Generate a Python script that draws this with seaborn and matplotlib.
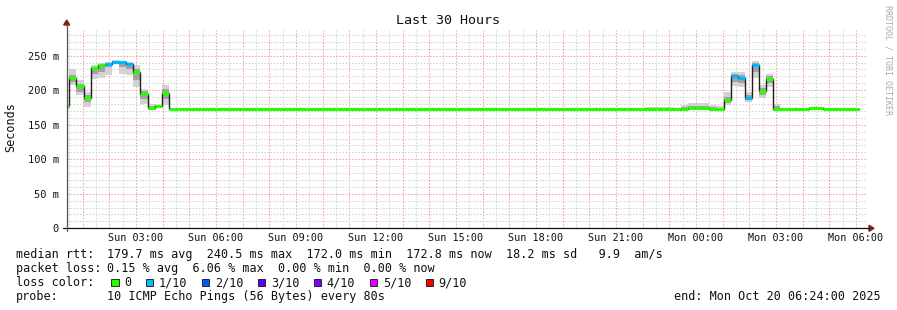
import numpy as np
import pandas as pd
import matplotlib
matplotlib.use("Agg")
import matplotlib.pyplot as plt
import matplotlib.dates as mdates
from matplotlib.patches import Rectangle, Polygon
from matplotlib.lines import Line2D
import seaborn as sns

# ---------------- data ----------------
title = "Last 30 Hours"
y_label = "Seconds"
window_start = "2025-10-19 00:24"
window_end = "2025-10-20 06:24"
first_bin_start = "2025-10-19 00:14"
bin_minutes = 16

# run-length segments of 16-minute bins
seg_bins = [1, 1, 1, 1, 1, 1, 1, 1, 1, 1, 1, 1, 1, 1, 1,
            67, 4, 1, 1, 3, 1, 1,
            1, 1, 1, 1, 1, 1, 1, 1,
            4, 2, 5]
seg_median = [177.1, 217.6, 205.6, 188.2, 232.5, 236.0, 238.3, 240.5, 240.5, 237.4, 226.3, 194.0, 174.2, 176.6, 195.5,
              172.8, 172.8, 172.8, 172.8, 173.5, 172.8, 172.8,
              186.2, 220.1, 218.0, 188.6, 236.9, 198.3, 216.6, 172.8,
              172.8, 174.0, 172.8]
seg_smoke_lo = [173.2, 207.9, 192.6, 175.6, 216.6, 217.6, 222.4, 238.3, 223.8, 222.4, 204.3, 180.4, 173.2, 174.6, 178.0,
                172.8, 172.8, 172.8, 172.8, 172.8, 172.8, 172.8,
                178.1, 205.6, 204.6, 182.9, 217.6, 189.1, 204.6, 172.8,
                172.8, 172.8, 172.8]
seg_smoke_hi = [180.4, 230.2, 214.3, 197.3, 236.0, 239.3, 240.8, 243.2, 241.8, 240.8, 236.0, 202.1, 180.4, 179.0, 207.0,
                172.8, 175.8, 172.8, 178.5, 181.5, 178.5, 177.0,
                197.3, 226.3, 226.3, 197.3, 241.8, 207.0, 223.8, 180.4,
                172.8, 175.5, 172.8]
seg_core_lo = [175.0, 211.8, 197.3, 182.9, 223.8, 226.3, 233.5, 239.3, 233.5, 231.0, 214.3, 187.6, 173.5, 175.5, 187.6,
               172.8, 172.8, 172.8, 172.8, 173.0, 172.8, 172.8,
               181.8, 211.8, 210.5, 185.3, 226.3, 193.4, 210.8, 172.8,
               172.8, 172.8, 172.8]
seg_core_hi = [178.5, 221.5, 209.4, 193.4, 233.5, 236.9, 239.3, 241.8, 241.0, 238.3, 231.0, 198.3, 177.0, 178.0, 202.0,
               172.8, 174.0, 172.8, 175.5, 177.5, 175.5, 174.5,
               190.1, 223.8, 222.5, 192.6, 239.8, 203.1, 220.5, 176.5,
               172.8, 174.0, 172.8]
seg_loss_pct = [0, 0, 0, 0, 0, 0, 2.5, 6.06, 3.0, 2.0, 0, 0, 0, 0, 0,
                0, 0, 0, 0, 0, 0, 0,
                0, 2.0, 4.0, 1.5, 3.0, 0, 0, 0,
                0, 0, 0]

y_ticks = [0, 50, 100, 150, 200, 250]
loss_labels = ["0", "1/10", "2/10", "3/10", "4/10", "5/10", "9/10"]
loss_tenths = [0, 1, 2, 3, 4, 5, 9]
loss_colors = ["#26ff00", "#00b8ff", "#0059ff", "#5e00ff", "#7e00ff", "#dd00ff", "#ff0000"]

rtt_stats = ["179.7", "240.5", "172.0", "172.8", "18.2", "9.9"]
loss_stats = ["0.15", "6.06", "0.00", "0.00"]
probe_text = "10 ICMP Echo Pings (56 Bytes) every 80s"
end_text = "end: Mon Oct 20 06:24:00 2025"
watermark = "RRDTOOL / TOBI OETIKER"

# ---------------- expand ----------------
med = np.repeat(seg_median, seg_bins)
s_lo = np.repeat(seg_smoke_lo, seg_bins)
s_hi = np.repeat(seg_smoke_hi, seg_bins)
c_lo = np.repeat(seg_core_lo, seg_bins)
c_hi = np.repeat(seg_core_hi, seg_bins)
loss = np.repeat(seg_loss_pct, seg_bins)
n = len(med)
edges = mdates.date2num(pd.date_range(first_bin_start, periods=n + 1, freq=f"{bin_minutes}min").to_pydatetime())

def ext(a):
    return np.append(a, a[-1])

bucket = np.searchsorted(loss_tenths, np.asarray(loss) / 10.0, side="left")
bin_colors = [loss_colors[b] for b in bucket]

# ---------------- figure ----------------
sns.set_style("white")
plt.rcParams["font.family"] = ["DejaVu Sans Mono"]

W, H = 897, 310
fig = plt.figure(figsize=(W / 100, H / 100), dpi=100)
fig.patch.set_facecolor("white")

def fx(x):
    return x / W

def fy(y):
    return 1 - y / H

x0, x1, yb, yt = 66.7, 866.7, 228.3, 30.0
ax = fig.add_axes([fx(x0), fy(yb), (x1 - x0) / W, (yb - yt) / H])
ax.set_facecolor("white")

t0 = mdates.date2num(pd.Timestamp(window_start).to_pydatetime())
t1 = mdates.date2num(pd.Timestamp(window_end).to_pydatetime())
ax.set_xlim(t0, t1)
ax.set_ylim(0, (yb - yt) / 0.6907)

# grid
ax.set_axisbelow(True)
ax.xaxis.set_major_locator(mdates.HourLocator(interval=1))
ax.xaxis.set_minor_locator(mdates.MinuteLocator(byminute=[30]))
ax.yaxis.set_major_locator(matplotlib.ticker.FixedLocator(y_ticks))
ax.yaxis.set_minor_locator(matplotlib.ticker.MultipleLocator(10))
ax.grid(which="minor", color="#d4d4d4", linestyle=(0, (1.5, 1.5)), linewidth=0.75)
ax.grid(which="major", color="#f5a3a3", linestyle=(0, (1.5, 1.5)), linewidth=0.75)

def xfmt(v, pos):
    d = mdates.num2date(v)
    return d.strftime("%a %H:%M") if d.hour % 3 == 0 and d.minute == 0 else ""

ax.xaxis.set_major_formatter(matplotlib.ticker.FuncFormatter(xfmt))
ax.yaxis.set_major_formatter(matplotlib.ticker.FuncFormatter(lambda v, p: "0" if v == 0 else f"{int(v)} m"))
ax.tick_params(axis="x", which="major", length=2, width=0.8, color="#f08a8a", pad=1.5, labelsize=7.3, labelcolor="#111111")
ax.tick_params(axis="x", which="minor", length=2, width=0.8, color="#c8c8c8")
ax.tick_params(axis="y", which="major", length=3, width=0.8, color="#777777", pad=2.6, labelsize=7.5, labelcolor="#111111")
ax.tick_params(axis="y", which="minor", length=0)
for s in ax.spines.values():
    s.set_visible(False)

# smoke
ax.fill_between(edges, ext(s_lo), ext(s_hi), step="post", color="#d2d2d2", linewidth=0, zorder=2)
ax.fill_between(edges, ext(c_lo), ext(c_hi), step="post", color="#a2a2a2", linewidth=0, zorder=3)

# median line (black) and loss-coloured band
sns.lineplot(x=edges, y=ext(med), drawstyle="steps-post", color="#202020", linewidth=1.0,
             estimator=None, sort=False, ax=ax, zorder=4)
ax.hlines(med, edges[:-1], edges[1:], colors=bin_colors, linewidth=2.3, zorder=5)

ax.set_xlabel("")
ax.set_ylabel("")

# axis lines with arrows
fig.add_artist(Line2D([fx(63), fx(869)], [fy(yb), fy(yb)], color="#111111", linewidth=0.9))
fig.add_artist(Line2D([fx(x0), fx(x0)], [fy(231), fy(24)], color="#555555", linewidth=0.9))
fig.add_artist(Polygon([[fx(869), fy(yb - 3)], [fx(874), fy(yb)], [fx(869), fy(yb + 3)]],
                       closed=True, color="#7f1f1f", transform=fig.transFigure))
fig.add_artist(Polygon([[fx(x0 - 3), fy(25)], [fx(x0), fy(20)], [fx(x0 + 3), fy(25)]],
                       closed=True, color="#7f1f1f", transform=fig.transFigure))

# texts
fig.text(fx(447.5), fy(24), title, ha="center", va="baseline", fontsize=9.6, color="#111111")
fig.text(fx(11), fy(127), y_label, ha="center", va="center", rotation=90, fontsize=8.5, color="#111111")
fig.text(fx(888), fy(5), watermark, ha="center", va="top", rotation=270, fontsize=6, color="#aaaaaa")

fs = 8.5
lx, vx = 16, 107.3
rtt_line = (f"{rtt_stats[0]} ms avg  {rtt_stats[1]} ms max  {rtt_stats[2]} ms min  "
            f"{rtt_stats[3]} ms now  {rtt_stats[4]} ms sd   {rtt_stats[5]}  am/s")
loss_line = f"{loss_stats[0]} % avg  {loss_stats[1]} % max  {loss_stats[2]} % min  {loss_stats[3]} % now"
fig.text(fx(lx), fy(258.3), "median rtt:", fontsize=fs, va="baseline", color="#111111")
fig.text(fx(vx), fy(258.3), rtt_line, fontsize=fs, va="baseline", color="#111111")
fig.text(fx(lx), fy(272.0), "packet loss:", fontsize=fs, va="baseline", color="#111111")
fig.text(fx(vx), fy(272.0), loss_line, fontsize=fs, va="baseline", color="#111111")
fig.text(fx(lx), fy(286.0), "loss color:", fontsize=fs, va="baseline", color="#111111")
fig.text(fx(lx), fy(300.0), "probe:", fontsize=fs, va="baseline", color="#111111")
fig.text(fx(vx), fy(300.0), probe_text, fontsize=fs, va="baseline", color="#111111")
fig.text(fx(881), fy(300.0), end_text, fontsize=fs, va="baseline", ha="right", color="#111111")

cw = 7.1
bx = 111.0
box = 7.5
for lab, col in zip(loss_labels, loss_colors):
    fig.add_artist(Rectangle((fx(bx), fy(282.5 + box / 2)), box / W, box / H, facecolor=col,
                             edgecolor="#111111", linewidth=0.6, transform=fig.transFigure))
    tx = bx + 13
    fig.text(fx(tx), fy(286.0), lab, fontsize=fs, va="baseline", color="#111111")
    bx = tx + len(lab) * cw + 14.6

fig.savefig("out.png", dpi=100, facecolor="white")
